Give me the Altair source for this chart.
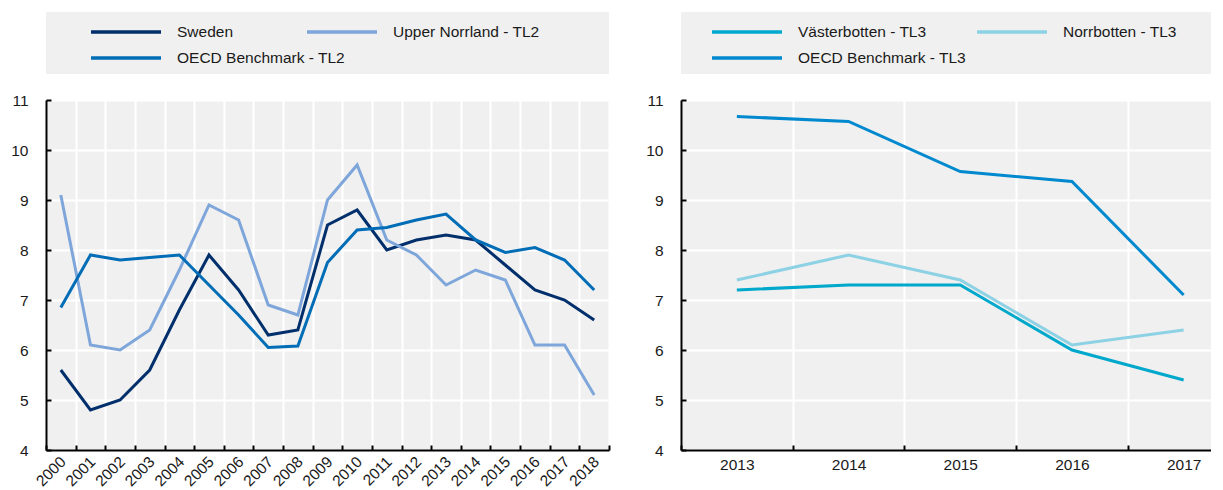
import altair as alt
import pandas as pd

# ---- data ----
years_left = list(range(2000, 2019))
sweden = [5.6, 4.8, 5.0, 5.6, 6.8, 7.9, 7.2, 6.3, 6.4, 8.5, 8.8, 8.0, 8.2, 8.3, 8.2, 7.7, 7.2, 7.0, 6.6]
upper_norrland = [9.1, 6.1, 6.0, 6.4, 7.6, 8.9, 8.6, 6.9, 6.7, 9.0, 9.7, 8.2, 7.9, 7.3, 7.6, 7.4, 6.1, 6.1, 5.1]
oecd_tl2 = [6.85, 7.9, 7.8, 7.85, 7.9, 7.3, 6.7, 6.05, 6.08, 7.75, 8.4, 8.45, 8.6, 8.72, 8.2, 7.95, 8.05, 7.8, 7.2]

years_right = [2013, 2014, 2015, 2016, 2017]
vasterbotten = [7.2, 7.3, 7.3, 6.0, 5.4]
norrbotten = [7.4, 7.9, 7.4, 6.1, 6.4]
oecd_tl3 = [10.67, 10.57, 9.57, 9.37, 7.1]

names_left = ["Sweden", "Upper Norrland - TL2", "OECD Benchmark - TL2"]
colors_left = ["#002F6C", "#7EA6DA", "#006DB6"]
names_right = ["Västerbotten - TL3", "Norrbotten - TL3", "OECD Benchmark - TL3"]
colors_right = ["#00A8CC", "#8DD2E4", "#0089CF"]

y_ticks = [4, 5, 6, 7, 8, 9, 10, 11]

FONT = "Liberation Sans"
FS = 15.5
TXT = "#1a1a1a"


def long_df(years, series_list, names):
    rows = []
    for name, vals in zip(names, series_list):
        for yr, v in zip(years, vals):
            rows.append({"year": yr, "value": v, "series": name})
    return pd.DataFrame(rows)


def panel(df, names, colors, x_domain, width, rotated, legend_x, col_pad):
    years = sorted(df["year"].unique().tolist())
    halves = [y - 0.5 for y in years] + [years[-1] + 0.5]
    halves = [h for h in halves if h <= x_domain[1]]
    x_scale = alt.Scale(domain=x_domain, nice=False, zero=False)
    y_scale = alt.Scale(domain=[4, 11], nice=False, zero=False)

    label_kw = dict(labelFont=FONT, labelFontSize=FS, labelColor=TXT)
    if rotated:
        x_lab = alt.Axis(values=years, format="d", orient="bottom", title=None, grid=False, ticks=False,
                         domain=True, domainColor="black", domainWidth=2, labelAngle=-45,
                         labelAlign="right", labelBaseline="top", labelPadding=4, labelOffset=-3,
                         labelOverlap=False, **label_kw)
    else:
        x_lab = alt.Axis(values=years, format="d", orient="bottom", title=None, grid=False, ticks=False,
                         domain=True, domainColor="black", domainWidth=2, labelAngle=0,
                         labelPadding=7, labelOverlap=False, **label_kw)
    x_tick = alt.Axis(values=halves, orient="bottom", title=None, grid=True, gridColor="white",
                      gridWidth=2, ticks=True, tickSize=5, tickColor="black", tickWidth=2,
                      labels=False, domain=False, offset=-5)
    y_lab = alt.Axis(values=y_ticks, format="d", orient="left", title=None, grid=True, gridColor="white",
                     gridWidth=2, ticks=False, domain=True, domainColor="black", domainWidth=2,
                     labelPadding=18, **label_kw)
    y_tick = alt.Axis(values=y_ticks, orient="left", title=None, grid=False, ticks=True, tickSize=5,
                      tickColor="black", tickWidth=2, labels=False, domain=False, offset=-5)

    box = alt.Chart(pd.DataFrame({"k": [0]})).mark_rect(color="#f0f0f0").encode(
        x=alt.value(0), x2=alt.value(width), y=alt.value(-88), y2=alt.value(-26)
    )

    ticks = alt.Chart(df).mark_line(strokeOpacity=0).encode(
        x=alt.X("year:Q", scale=x_scale, axis=x_tick),
        y=alt.Y("value:Q", scale=y_scale, axis=y_tick),
        detail="series:N",
    )

    legend = alt.Legend(
        title=None, orient="none", legendX=legend_x, legendY=-77, direction="horizontal",
        columns=2, gridAlign="none", columnPadding=col_pad, rowPadding=8, padding=0,
        symbolType="M-5,0H5", symbolSize=196, symbolStrokeWidth=3.5,
        labelFont=FONT, labelFontSize=FS, labelColor=TXT, labelOffset=42, labelLimit=400,
    )
    lines = alt.Chart(df).mark_line(strokeWidth=3).encode(
        x=alt.X("year:Q", scale=x_scale, axis=x_lab),
        y=alt.Y("value:Q", scale=y_scale, axis=y_lab),
        color=alt.Color("series:N", scale=alt.Scale(domain=names, range=colors), sort=names, legend=legend),
    )
    return alt.layer(box, ticks, lines).resolve_axis(x="independent", y="independent").properties(
        width=width, height=350
    )


df_left = long_df(years_left, [sweden, upper_norrland, oecd_tl2], names_left)
df_right = long_df(years_right, [vasterbotten, norrbotten, oecd_tl3], names_right)

left = panel(df_left, names_left, colors_left, [1999.5, 2018.5], 563, True, 71, -45)
right = panel(df_right, names_right, colors_right, [2012.5, 2017.245], 530, False, 57, 4)

chart = (
    alt.hconcat(left, right, spacing=35)
    .resolve_scale(x="independent", y="independent", color="independent")
    .resolve_legend(color="independent")
    .properties(padding={"left": 2, "top": 4, "right": 0, "bottom": 0})
    .configure_view(fill="#f0f0f0", strokeOpacity=0)
)

chart.save("out.html", embed_options={"renderer": "svg", "actions": False})
